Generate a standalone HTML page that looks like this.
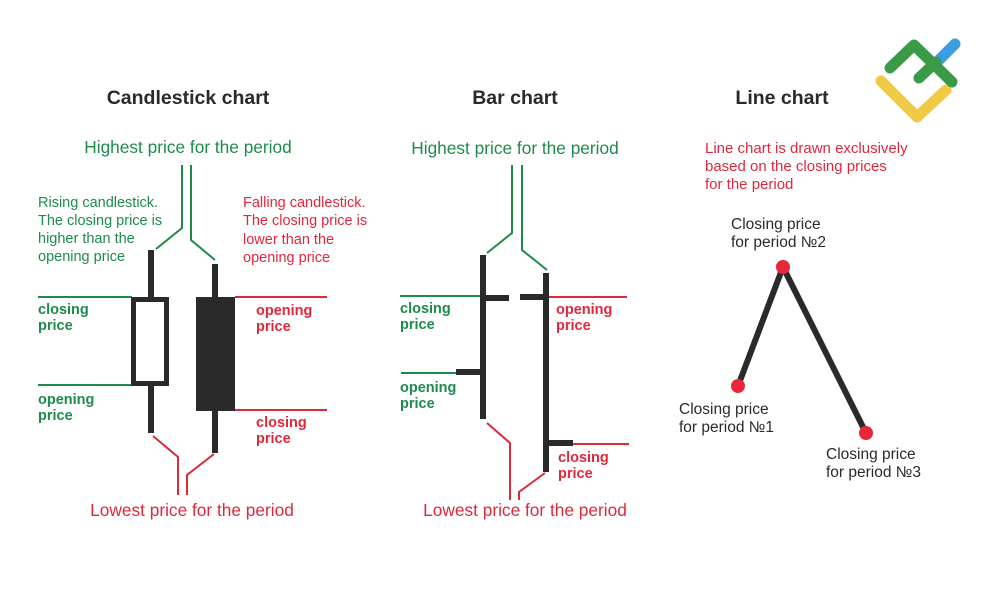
<!DOCTYPE html>
<html><head><meta charset="utf-8"><style>
html,body{margin:0;padding:0;background:#fff;}
svg{display:block;}
text{font-family:"Liberation Sans",sans-serif;}
.t{font-size:19.5px;font-weight:bold;fill:#2a2a2a;}
.g{fill:#1e8b4c;font-size:14.5px;}
.r{fill:#e0283c;font-size:14.5px;}
.gb{fill:#1e8b4c;font-size:14.5px;font-weight:bold;}
.rb{fill:#e0283c;font-size:14.5px;font-weight:bold;}
.k{fill:#2a2a2a;font-size:15.5px;}
</style></head><body>
<svg width="1000" height="612" viewBox="0 0 1000 612" xmlns="http://www.w3.org/2000/svg">
<!-- logo -->
<g fill="none" stroke-linecap="round" stroke-linejoin="round" stroke-width="11">
<path d="M881 81 L917 117 L946 90" stroke="#f0c945"/>
<path d="M939 60 L955 44" stroke="#3a9ee0"/>
<path d="M890 68 L914 45 L952 82" stroke="#3a9a48"/>
<path d="M919 78 L936 62" stroke="#3a9a48"/>
</g>
<text class="t" x="188" y="104" text-anchor="middle">Candlestick chart</text>
<text class="t" x="515" y="104" text-anchor="middle">Bar chart</text>
<text class="t" x="782" y="104" text-anchor="middle">Line chart</text>

<!-- Candlestick -->
<text class="g" x="188" y="153" text-anchor="middle" style="font-size:17.3px">Highest price for the period</text>
<text class="r" x="192" y="516" text-anchor="middle" style="font-size:17.3px">Lowest price for the period</text>
<g class="g"><text x="38" y="207">Rising candlestick.</text><text x="38" y="225">The closing price is</text><text x="38" y="243">higher than the</text><text x="38" y="261">opening price</text></g>
<g class="r"><text x="243" y="207">Falling candlestick.</text><text x="243" y="225">The closing price is</text><text x="243" y="244">lower than the</text><text x="243" y="262">opening price</text></g>
<g fill="none" stroke-width="2">
<path d="M182 165 V228 L156 249" stroke="#1e8b4c"/>
<path d="M191 165 V240 L215 260" stroke="#1e8b4c"/>
<path d="M38 297 H132 M38 385 H132" stroke="#1e8b4c"/>
<path d="M235 297 H327 M235 410 H327" stroke="#e0283c"/>
<path d="M153 436 L178 457 V495" stroke="#e0283c"/>
<path d="M214 454 L187 475 V495" stroke="#e0283c"/>
</g>
<g stroke="#2a2a2a" fill="none">
<path d="M151 250 V298 M151 385 V433" stroke-width="6"/>
<rect x="133.5" y="299.5" width="33" height="84" stroke-width="5"/>
<path d="M215 264 V298 M215 410 V453" stroke-width="6"/>
</g>
<rect x="196" y="297" width="39" height="114" fill="#2a2a2a"/>
<text class="gb" x="38" y="314">closing</text><text class="gb" x="38" y="330">price</text>
<text class="gb" x="38" y="404">opening</text><text class="gb" x="38" y="420">price</text>
<text class="rb" x="256" y="315">opening</text><text class="rb" x="256" y="331">price</text>
<text class="rb" x="256" y="427">closing</text><text class="rb" x="256" y="443">price</text>

<!-- Bar chart -->
<text class="g" x="515" y="154" text-anchor="middle" style="font-size:17.3px">Highest price for the period</text>
<text class="r" x="525" y="516" text-anchor="middle" style="font-size:17.3px">Lowest price for the period</text>
<g fill="none" stroke-width="2">
<path d="M512 165 V233 L487 253" stroke="#1e8b4c"/>
<path d="M522 165 V250 L547 270" stroke="#1e8b4c"/>
<path d="M400 296 H483 M401 373 H456" stroke="#1e8b4c"/>
<path d="M546 297 H627 M573 444 H629" stroke="#e0283c"/>
<path d="M487 423 L510 443 V500" stroke="#e0283c"/>
<path d="M545 473 L519 492 V500" stroke="#e0283c"/>
</g>
<g stroke="#2a2a2a" stroke-width="6" fill="none">
<path d="M483 255 V419 M483 298 H509 M456 372 H483"/>
<path d="M546 273 V472 M520 297 H546 M546 443 H573"/>
</g>
<text class="gb" x="400" y="313">closing</text><text class="gb" x="400" y="329">price</text>
<text class="gb" x="400" y="392">opening</text><text class="gb" x="400" y="408">price</text>
<text class="rb" x="556" y="314">opening</text><text class="rb" x="556" y="330">price</text>
<text class="rb" x="558" y="462">closing</text><text class="rb" x="558" y="478">price</text>

<!-- Line chart -->
<g class="r" style="font-size:15px"><text x="705" y="153">Line chart is drawn exclusively</text><text x="705" y="171">based on the closing prices</text><text x="705" y="189">for the period</text></g>
<path d="M738 386 L783 267 L866 433" fill="none" stroke="#2a2a2a" stroke-width="6"/>
<circle cx="738" cy="386" r="7" fill="#e8283a"/>
<circle cx="783" cy="267" r="7" fill="#e8283a"/>
<circle cx="866" cy="433" r="7" fill="#e8283a"/>
<g class="k"><text x="731" y="229">Closing price</text><text x="731" y="247">for period №2</text>
<text x="679" y="414">Closing price</text><text x="679" y="432">for period №1</text>
<text x="826" y="459">Closing price</text><text x="826" y="477">for period №3</text></g>
</svg>
</body></html>
